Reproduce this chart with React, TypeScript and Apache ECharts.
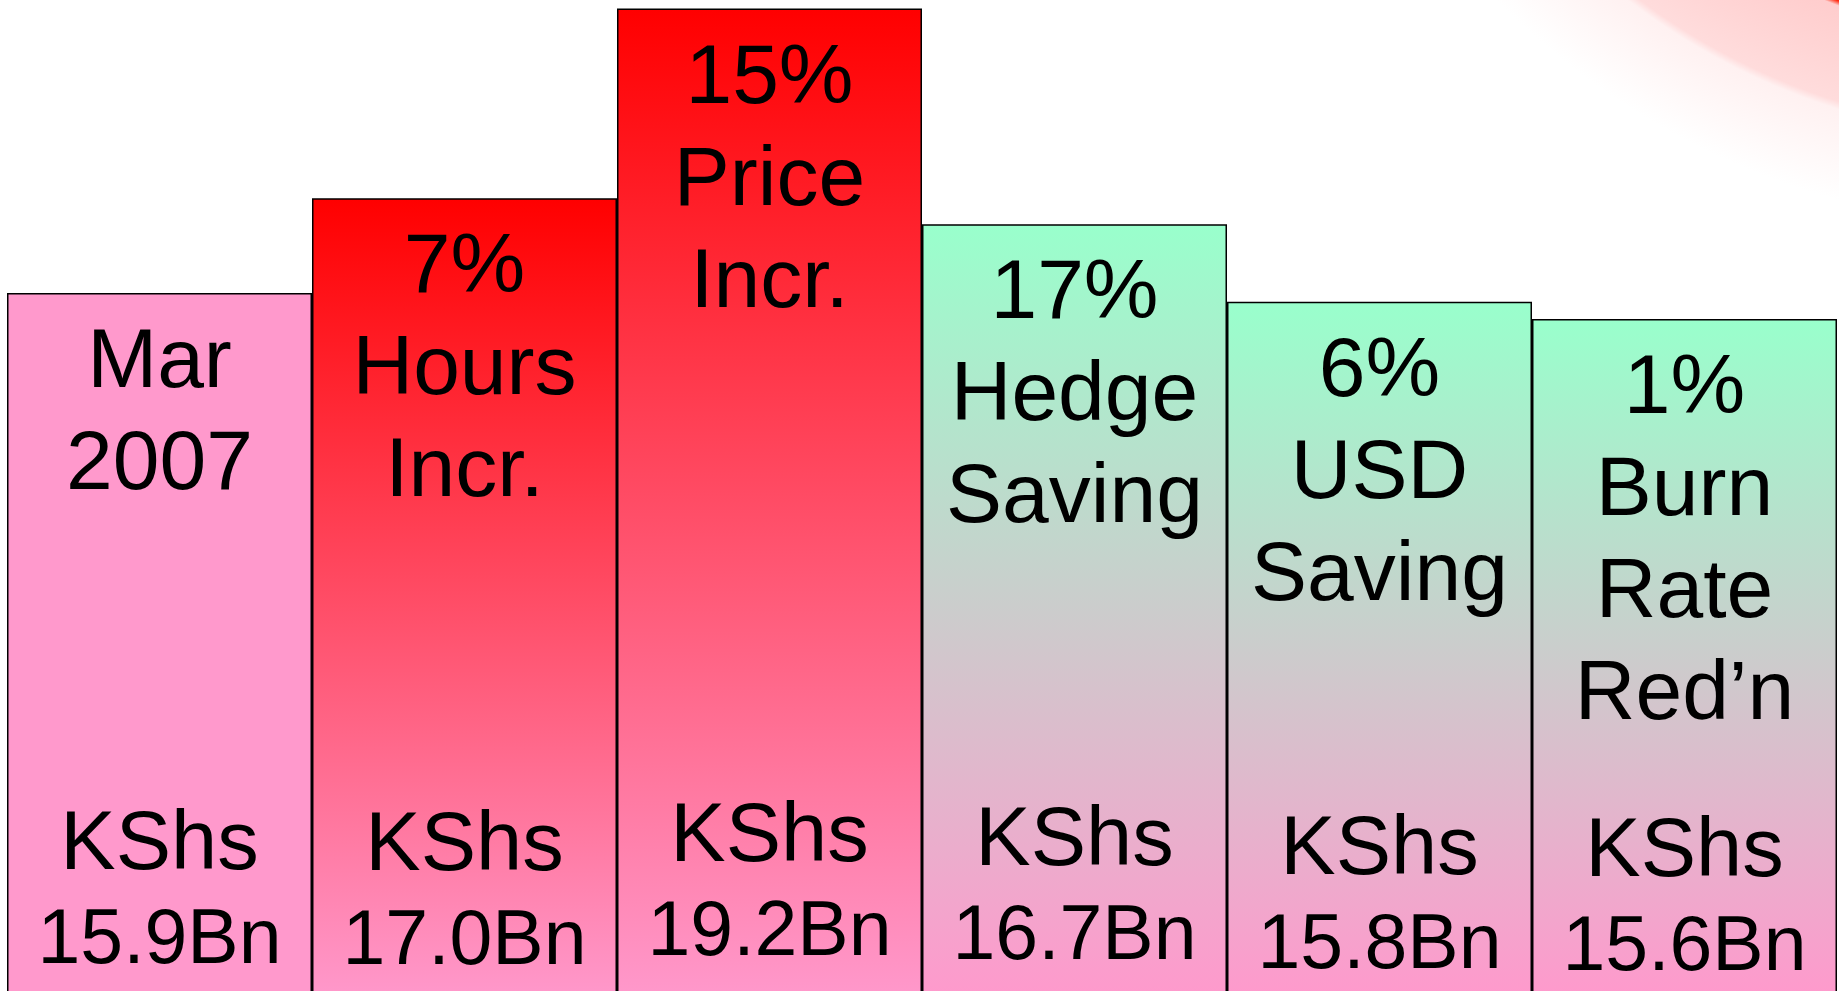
import React, { useEffect, useRef } from 'react';
import * as echarts from 'echarts';

// ---- data ----
const categories = ['Mar 2007', 'Hours Incr.', 'Price Incr.', 'Hedge Saving', 'USD Saving', 'Burn Rate Red’n'];
const topLabels = ['Mar\n2007', '7%\nHours\nIncr.', '15%\nPrice\nIncr.', '17%\nHedge\nSaving', '6%\nUSD\nSaving', '1%\nBurn\nRate\nRed’n'];
const valuesBn = [15.9, 17.0, 19.2, 16.7, 15.8, 15.6];
const barKinds = ['base', 'increase', 'increase', 'saving', 'saving', 'saving'];
const currencyLabel = 'KShs';

// ---- styles ----
const FONT = '"Liberation Sans", Arial, Helvetica, sans-serif';
const PINK = '#FF99CC';
// small vertical nudges of the bottom (KShs) labels, in px, as placed on the slide
const bottomLabelShift = [0, 1, -8, -4, 5, 7];

const fillFor = (kind: string) => {
  if (kind === 'base') return PINK;
  if (kind === 'increase')
    return new echarts.graphic.LinearGradient(0, 0, 0, 1, [
      { offset: 0, color: '#FF0000' },
      { offset: 1, color: PINK },
    ]);
  return new echarts.graphic.LinearGradient(0, 0, 0, 1, [
    { offset: 0, color: '#99FFCC' },
    { offset: 1, color: PINK },
  ]);
};

export default function App() {
  const ref = useRef<HTMLDivElement>(null);
  useEffect(() => {
    if (!ref.current) return;
    const chart = echarts.init(ref.current, null, { renderer: 'svg' });
    chart.setOption({
      animation: false,
      backgroundColor: '#FFFFFF',
      grid: { left: 7, right: 2, top: 0, bottom: 0 },
      xAxis: { type: 'category', data: categories, show: false },
      yAxis: { type: 'value', min: 7.7, max: 19.3, show: false },
      graphic: [
        {
          type: 'circle',
          z: 0,
          silent: true,
          shape: { cx: 2038, cy: -533, r: 760 },
          style: {
            fill: {
              type: 'radial',
              x: 0.5,
              y: 0.5,
              r: 0.5,
              colorStops: [
                { offset: 0, color: '#FF0000' },
                { offset: 0.75, color: '#FF2A10' },
                { offset: 0.756, color: '#FFCDCD' },
                { offset: 0.875, color: '#FFDCDC' },
                { offset: 0.885, color: '#FFF1F1' },
                { offset: 1, color: '#FFFFFF' },
              ],
            },
          },
        },
      ],
      series: [
        {
          type: 'bar',
          z: 2,
          barWidth: '100%',
          barGap: '-100%',
          barCategoryGap: '0%',
          data: valuesBn.map((v, i) => ({
            value: v,
            itemStyle: { color: fillFor(barKinds[i]) },
          })),
          itemStyle: { borderColor: '#000000', borderWidth: 1.5 },
          label: {
            show: true,
            position: 'insideTop',
            distance: 14,
            formatter: (p: any) => topLabels[p.dataIndex],
            fontFamily: FONT,
            fontSize: 84,
            lineHeight: 102,
            color: '#000000',
            align: 'center',
          },
        },
        {
          type: 'bar',
          z: 3,
          barWidth: '100%',
          barGap: '-100%',
          barCategoryGap: '0%',
          data: valuesBn.map((v, i) => ({
            value: v,
            label: { offset: [0, bottomLabelShift[i]] },
          })),
          itemStyle: { color: 'rgba(0,0,0,0)', borderWidth: 0 },
          label: {
            show: true,
            position: 'insideBottom',
            distance: 16,
            formatter: (p: any) => `{k|${currencyLabel}}\n{v|${Number(p.value).toFixed(1)}Bn}`,
            color: '#000000',
            align: 'center',
            rich: {
              k: { fontFamily: FONT, fontSize: 83, lineHeight: 96, color: '#000000' },
              v: { fontFamily: FONT, fontSize: 77, lineHeight: 96, color: '#000000' },
            },
          },
        },
      ],
    });
    return () => chart.dispose();
  }, []);

  return (
    <div
      style={{
        position: 'fixed',
        left: 0,
        top: 0,
        width: 1839,
        height: 991,
        overflow: 'hidden',
        background: '#FFFFFF',
      }}
    >
      <div ref={ref} style={{ width: 1839, height: 1000 }} />
    </div>
  );
}
